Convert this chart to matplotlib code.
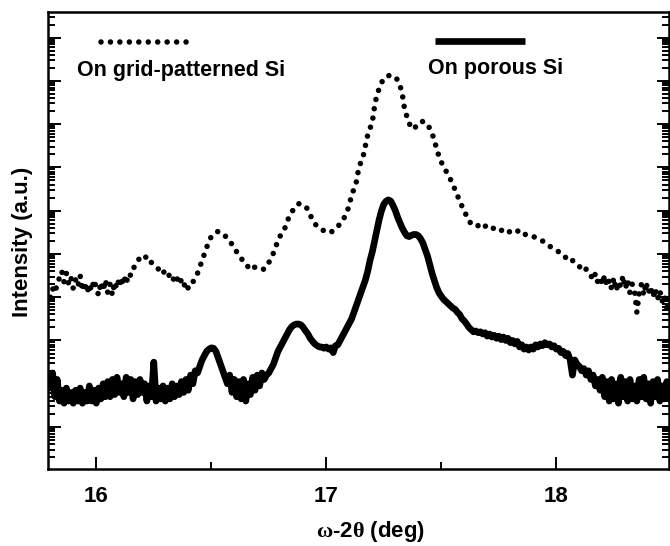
import numpy as np
import matplotlib.pyplot as plt
from matplotlib.ticker import LogLocator, NullFormatter, MultipleLocator
from matplotlib.lines import Line2D

plt.rcParams['font.family'] = ['Liberation Sans', 'DejaVu Sans']
plt.rcParams['font.weight'] = 'bold'
plt.rcParams['mathtext.fontset'] = 'custom'
plt.rcParams['mathtext.rm'] = 'Liberation Serif'

# scan angle (deg), 0.01 deg steps
omega_2theta = np.round(np.arange(15.80, 18.495, 0.01), 2)

# log10 intensity
log_porous = [
    0.9, 1.25, 0.7, 1.1, 0.6, 0.85, 0.55, 0.9, 0.6, 0.8,
    0.55, 0.85, 0.6, 0.9, 0.55, 0.8, 0.6, 0.95, 0.6, 0.85,
    0.55, 0.9, 0.65, 1.0, 0.7, 1.05, 0.7, 1.1, 0.75, 1.15,
    0.8, 1.0, 0.7, 1.15, 0.8, 1.1, 0.65, 1.05, 0.75, 1.1,
    0.8, 1.0, 0.6, 0.95, 0.7, 1.5, 0.6, 0.9, 0.65, 0.95,
    0.6, 0.9, 0.65, 1.0, 0.7, 0.95, 0.75, 1.05, 0.8, 1.1,
    0.85, 1.2, 1.0, 1.3, 1.25, 1.4, 1.55, 1.65, 1.75, 1.8,
    1.83, 1.82, 1.75, 1.6, 1.45, 1.3, 1.15, 1.0, 1.2, 0.8,
    1.1, 0.7, 1.05, 0.65, 1.1, 0.6, 1.0, 0.75, 1.15, 0.85,
    1.2, 0.95, 1.25, 1.1, 1.2, 1.25, 1.35, 1.45, 1.6, 1.75,
    1.85, 1.95, 2.05, 2.15, 2.25, 2.32, 2.36, 2.38, 2.38, 2.36,
    2.3, 2.22, 2.15, 2.05, 1.98, 1.92, 1.88, 1.85, 1.85, 1.82,
    1.85, 1.8, 1.83, 1.72, 1.88, 1.9, 2.0, 2.1, 2.2, 2.3,
    2.4, 2.5, 2.65, 2.8, 2.95, 3.1, 3.25, 3.4, 3.6, 3.85,
    4.05, 4.3, 4.55, 4.8, 5.0, 5.15, 5.22, 5.25, 5.22, 5.12,
    5.0, 4.85, 4.72, 4.6, 4.5, 4.42, 4.4, 4.43, 4.45, 4.45,
    4.42, 4.35, 4.25, 4.1, 3.95, 3.75, 3.55, 3.38, 3.22, 3.1,
    3.02, 2.95, 2.9, 2.85, 2.8, 2.75, 2.72, 2.65, 2.6, 2.5,
    2.45, 2.38, 2.3, 2.25, 2.2, 2.22, 2.18, 2.2, 2.15, 2.18,
    2.1, 2.15, 2.08, 2.12, 2.05, 2.1, 2.02, 2.08, 2.0, 2.05,
    1.95, 2.0, 1.92, 1.98, 1.85, 1.9, 1.8, 1.85, 1.78, 1.85,
    1.8, 1.9, 1.85, 1.92, 1.88, 1.95, 1.9, 1.92, 1.85, 1.88,
    1.8, 1.82, 1.72, 1.75, 1.65, 1.7, 1.55, 1.2, 1.55, 1.45,
    1.4, 1.3, 1.35, 1.2, 1.3, 1.1, 1.2, 0.95, 1.1, 0.85,
    1.15, 0.7, 1.05, 0.6, 1.1, 0.65, 1.0, 0.55, 1.15, 0.7,
    1.05, 0.6, 1.1, 0.65, 0.95, 0.6, 1.1, 0.7, 1.15, 0.65,
    1.0, 0.55, 1.05, 0.7, 1.1, 0.6, 0.95, 0.65, 1.05, 0.7,
]

log_grid = [
    3.0, 3.2, 3.1, 3.3, 3.45, 3.6, 3.35, 3.55, 3.3, 3.45,
    3.2, 3.4, 3.25, 3.5, 3.15, 3.35, 3.1, 3.3, 3.15, 3.4,
    3.2, 3.05, 3.35, 3.15, 3.4, 3.1, 3.3, 3.05, 3.35, 3.2,
    3.45, 3.25, 3.5, 3.3, 3.55, 3.5, 3.65, 3.75, 3.85, 3.9,
    3.95, 3.9, 3.95, 3.85, 3.8, 3.75, 3.7, 3.65, 3.7, 3.6,
    3.55, 3.6, 3.45, 3.5, 3.35, 3.45, 3.3, 3.4, 3.25, 3.35,
    3.2, 3.3, 3.35, 3.45, 3.55, 3.7, 3.85, 4.0, 4.15, 4.3,
    4.4, 4.45, 4.5, 4.52, 4.5, 4.45, 4.42, 4.35, 4.3, 4.22,
    4.15, 4.05, 3.98, 3.9, 3.82, 3.78, 3.7, 3.72, 3.65, 3.7,
    3.68, 3.66, 3.64, 3.65, 3.7, 3.8, 3.9, 4.02, 4.17, 4.3,
    4.42, 4.52, 4.6, 4.75, 4.88, 4.97, 5.05, 5.12, 5.16, 5.15,
    5.13, 5.1, 5.02, 4.9, 4.79, 4.7, 4.64, 4.61, 4.57, 4.53,
    4.5, 4.49, 4.5, 4.54, 4.58, 4.63, 4.7, 4.76, 4.86, 4.96,
    5.15, 5.35, 5.5, 5.65, 5.95, 6.12, 6.25, 6.5, 6.75, 6.9,
    7.05, 7.42, 7.68, 7.82, 7.96, 8.04, 8.1, 8.12, 8.12, 8.12,
    8.08, 8.02, 7.9, 7.7, 7.36, 7.18, 7.02, 6.92, 6.88, 6.95,
    7.03, 7.05, 7.06, 7.05, 6.98, 6.9, 6.78, 6.62, 6.42, 6.25,
    6.12, 6.02, 5.92, 5.82, 5.72, 5.6, 5.48, 5.35, 5.22, 5.1,
    4.98, 4.88, 4.76, 4.7, 4.68, 4.7, 4.65, 4.68, 4.62, 4.65,
    4.6, 4.62, 4.58, 4.6, 4.56, 4.58, 4.55, 4.52, 4.55, 4.5,
    4.52, 4.48, 4.5, 4.52, 4.55, 4.5, 4.45, 4.45, 4.42, 4.4,
    4.4, 4.38, 4.35, 4.32, 4.3, 4.25, 4.22, 4.18, 4.15, 4.12,
    4.08, 4.05, 4.0, 3.98, 3.92, 3.95, 3.88, 3.85, 3.8, 3.75,
    3.7, 3.72, 3.62, 3.65, 3.55, 3.5, 3.4, 3.55, 3.35, 3.45,
    3.3, 3.5, 3.25, 3.4, 3.2, 3.45, 3.15, 3.35, 3.25, 3.5,
    3.2, 3.4, 3.1, 3.3, 3.15, 2.65, 3.1, 3.3, 3.05, 3.35,
    3.1, 3.25, 3.0, 3.2, 2.95, 3.15, 2.9, 3.05, 2.75, 2.95,
]

labels = ['On grid-patterned Si', 'On porous Si']

fig = plt.figure(figsize=(6.7, 5.46), dpi=100)
ax = fig.add_axes([0.0716, 0.141, 0.927, 0.837])

dot_lw = 4.0
dotstyle = (0, (0.001, 1.7))
solid_lw = 4.8
ax.plot(omega_2theta, 10 ** np.array(log_grid), color='black', lw=dot_lw,
        linestyle=dotstyle, dash_capstyle='round')
ax.plot(omega_2theta, 10 ** np.array(log_porous), color='black', lw=solid_lw,
        solid_joinstyle='round', solid_capstyle='round')

ax.set_yscale('log')
ax.set_xlim(15.79, 18.49)
ax.set_ylim(10 ** -0.97, 10 ** 9.59)

ax.yaxis.set_major_locator(LogLocator(base=10, numticks=30))
ax.yaxis.set_minor_locator(LogLocator(base=10, subs=np.arange(2, 10), numticks=30))
ax.yaxis.set_major_formatter(NullFormatter())
ax.yaxis.set_minor_formatter(NullFormatter())
ax.xaxis.set_major_locator(MultipleLocator(1))
ax.xaxis.set_minor_locator(MultipleLocator(0.5))

ax.tick_params(which='both', direction='in', right=True, top=False, width=1.4)
ax.tick_params(axis='y', which='major', length=9)
ax.tick_params(axis='y', which='minor', length=5)
ax.tick_params(axis='x', which='major', length=9, labelsize=16, pad=12)
ax.tick_params(axis='x', which='minor', length=5)
for sp in ax.spines.values():
    sp.set_linewidth(1.8)

ax.set_xlabel(r'$\mathrm{\omega}$-2$\mathrm{\theta}$ (deg)', fontsize=16, fontweight='bold')
ax.xaxis.set_label_coords(0.52, -0.11)
ax.set_ylabel('Intensity (a.u.)', fontsize=16, fontweight='bold')
ax.yaxis.set_label_coords(-0.024, 0.497)

# legend keys drawn above their labels
ax.add_line(Line2D([0.086, 0.226], [0.934, 0.934], transform=ax.transAxes,
                   color='black', lw=dot_lw, linestyle=dotstyle, dash_capstyle='round'))
ax.text(0.047, 0.873, labels[0], transform=ax.transAxes, fontsize=15.5,
        fontweight='bold', va='center', ha='left')
ax.add_line(Line2D([0.623, 0.768], [0.937, 0.937], transform=ax.transAxes,
                   color='black', lw=solid_lw, solid_capstyle='butt'))
ax.text(0.612, 0.877, labels[1], transform=ax.transAxes, fontsize=15.5,
        fontweight='bold', va='center', ha='left')

fig.savefig('out.png', dpi=100)
